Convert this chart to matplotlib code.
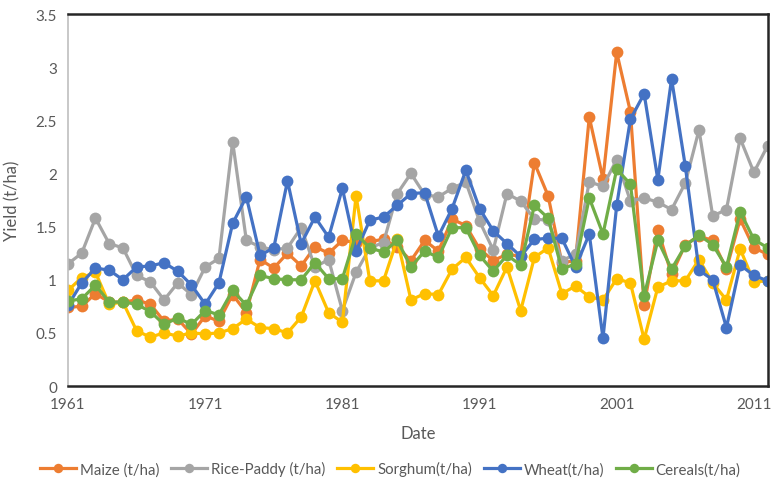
import numpy as np
import matplotlib
matplotlib.use('Agg')
import matplotlib.pyplot as plt

plt.rcParams['font.family'] = ['Lato', 'DejaVu Sans']

years = np.arange(1961, 2013)

maize = [0.74, 0.75, 0.87, 0.79, 0.79, 0.81, 0.77, 0.61, 0.63, 0.49,
         0.66, 0.61, 0.86, 0.69, 1.19, 1.11, 1.25, 1.13, 1.31, 1.25,
         1.37, 1.35, 1.36, 1.38, 1.31, 1.18, 1.37, 1.27, 1.57, 1.51,
         1.29, 1.18, 1.24, 1.22, 2.10, 1.79, 1.16, 1.18, 2.53, 1.95,
         3.14, 2.58, 0.76, 1.47, 1.05, 1.33, 1.41, 1.37, 1.10, 1.57,
         1.30, 1.24]
rice = [1.15, 1.25, 1.58, 1.34, 1.30, 1.04, 0.98, 0.81, 0.97, 0.86,
        1.12, 1.20, 2.30, 1.37, 1.31, 1.28, 1.30, 1.49, 1.12, 1.19,
        0.71, 1.07, 1.30, 1.35, 1.81, 2.00, 1.80, 1.78, 1.86, 1.92,
        1.55, 1.28, 1.81, 1.74, 1.57, 1.56, 1.18, 1.24, 1.92, 1.88,
        2.13, 1.74, 1.77, 1.73, 1.66, 1.91, 2.41, 1.60, 1.66, 2.33,
        2.01, 2.26]
sorghum = [0.90, 1.02, 1.07, 0.77, 0.79, 0.52, 0.46, 0.50, 0.47, 0.50,
           0.49, 0.50, 0.54, 0.63, 0.55, 0.54, 0.50, 0.65, 0.99, 0.69,
           0.60, 1.79, 0.99, 0.99, 1.38, 0.81, 0.87, 0.86, 1.10, 1.21,
           1.02, 0.85, 1.12, 0.71, 1.21, 1.30, 0.87, 0.94, 0.84, 0.81,
           1.01, 0.97, 0.44, 0.93, 0.99, 0.99, 1.19, 0.97, 0.81, 1.29,
           0.98, 0.99]
wheat = [0.76, 0.97, 1.11, 1.09, 1.00, 1.12, 1.13, 1.16, 1.08, 0.95,
         0.77, 0.97, 1.53, 1.78, 1.23, 1.30, 1.93, 1.34, 1.59, 1.40,
         1.86, 1.27, 1.56, 1.59, 1.70, 1.81, 1.82, 1.41, 1.67, 2.03,
         1.67, 1.46, 1.34, 1.22, 1.38, 1.39, 1.39, 1.12, 1.43, 0.45,
         1.70, 2.51, 2.75, 1.94, 2.89, 2.07, 1.09, 1.00, 0.55, 1.14,
         1.04, 0.99]
cereals = [0.80, 0.82, 0.95, 0.79, 0.79, 0.77, 0.70, 0.58, 0.64, 0.58,
           0.71, 0.67, 0.90, 0.76, 1.04, 1.01, 1.00, 1.00, 1.16, 1.01,
           1.01, 1.43, 1.30, 1.26, 1.37, 1.12, 1.27, 1.21, 1.49, 1.49,
           1.23, 1.08, 1.23, 1.14, 1.70, 1.58, 1.10, 1.15, 1.77, 1.43,
           2.04, 1.90, 0.85, 1.37, 1.10, 1.32, 1.42, 1.33, 1.12, 1.64,
           1.38, 1.30]

series = [
    ('Maize (t/ha)', maize, '#ED7D31'),
    ('Rice-Paddy (t/ha)', rice, '#A5A5A5'),
    ('Sorghum(t/ha)', sorghum, '#FFC000'),
    ('Wheat(t/ha)', wheat, '#4472C4'),
    ('Cereals(t/ha)', cereals, '#70AD47'),
]

fig = plt.figure(figsize=(7.73, 4.85), dpi=100)
ax = fig.add_axes([0.088, 0.202, 0.905, 0.767])

for name, vals, col in series:
    ax.plot(years, vals, color=col, lw=2.3, marker='o', ms=8.5,
            markeredgewidth=0, label=name)

ax.set_xlim(1961, 2012)
ax.set_ylim(0, 3.5)
ax.set_xticks(np.arange(1961, 2012, 10))
ax.set_yticks(np.arange(0, 3.51, 0.5))
ax.set_yticklabels(['0', '0.5', '1', '1.5', '2', '2.5', '3', '3.5'])
ax.tick_params(length=0, labelsize=11, colors='#595959', pad=8)

for side in ['top', 'right', 'bottom']:
    ax.spines[side].set_color('#262626')
    ax.spines[side].set_linewidth(1.8)
ax.spines['left'].set_color('#BFBFBF')
ax.spines['left'].set_linewidth(1.2)

ax.set_xlabel('Date', fontsize=12, color='#595959', labelpad=10)
ax.set_ylabel('Yield (t/ha)', fontsize=12, color='#595959', labelpad=11)

fig.legend(*ax.get_legend_handles_labels(), loc='center',
           bbox_to_anchor=(0.505, 0.031), ncol=5, frameon=False,
           fontsize=10.8, handlelength=2.4, columnspacing=0.8,
           handletextpad=0.25, labelcolor='#595959', markerscale=0.8)

fig.savefig('out.png', dpi=100)
